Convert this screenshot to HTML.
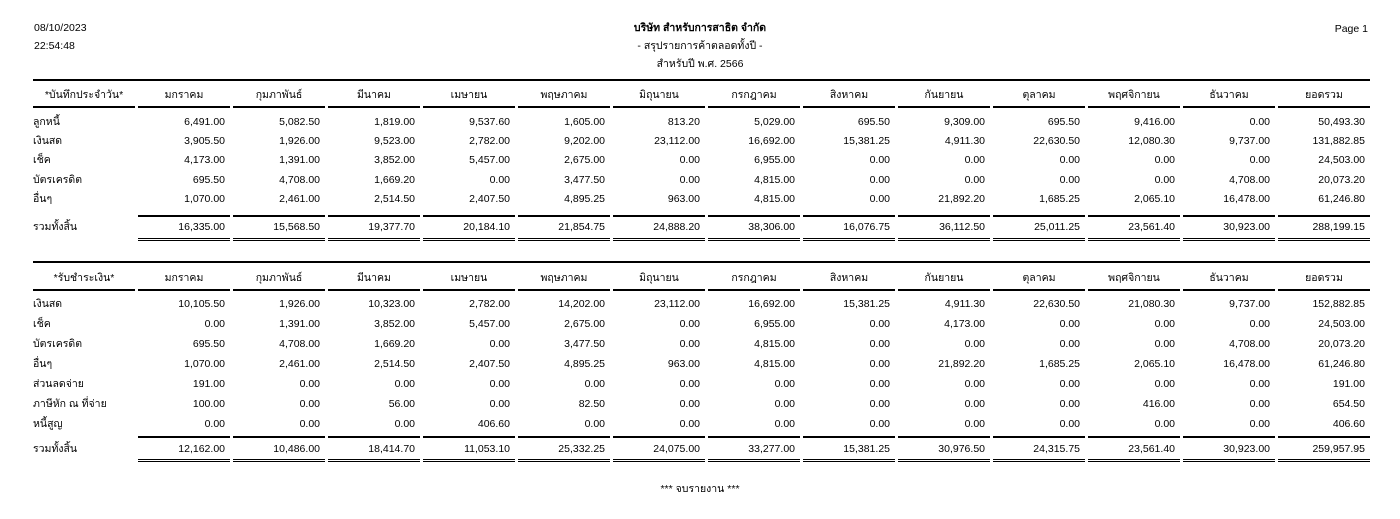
<!DOCTYPE html>
<html><head><meta charset="utf-8"><style>
body{margin:0;width:1400px;height:519px;background:#fff;position:relative;overflow:hidden;font-family:"Liberation Sans","DejaVu Sans",sans-serif;font-size:10.5px;color:#000}
.a{position:absolute;line-height:14px;white-space:nowrap}
.c{position:absolute;left:0;width:1400px;text-align:center;line-height:14px}
.r{position:absolute;left:33px;display:flex;line-height:14px;white-space:nowrap}
.r span{width:95px;text-align:right;padding-right:5px;box-sizing:border-box}
.r span:first-child{width:102px;text-align:left;padding:0}
.h span{text-align:center;padding:0 0 0 3px}
.h span:first-child{text-align:center}
.ln{position:absolute;display:flex;gap:3px}
.ln div{width:92px;background:#000}
.full{position:absolute;left:33px;width:1337px;height:2px;background:#000}
</style></head><body>
<div class="a" style="left:34px;top:21px">08/10/2023</div>
<div class="a" style="left:34px;top:39px">22:54:48</div>
<div class="a" style="right:32px;top:22px">Page 1</div>
<div class="c" style="top:21px;font-weight:bold">บริษัท สำหรับการสาธิต จำกัด</div>
<div class="c" style="top:39px">- สรุปรายการค้าตลอดทั้งปี -</div>
<div class="c" style="top:57px">สำหรับปี พ.ศ. 2566</div>

<div class="full" style="top:79px"></div>
<div class="r h" style="top:88px"><span>*บันทึกประจำวัน*</span><span>มกราคม</span><span>กุมภาพันธ์</span><span>มีนาคม</span><span>เมษายน</span><span>พฤษภาคม</span><span>มิถุนายน</span><span>กรกฎาคม</span><span>สิงหาคม</span><span>กันยายน</span><span>ตุลาคม</span><span>พฤศจิกายน</span><span>ธันวาคม</span><span>ยอดรวม</span></div>
<div class="ln" style="left:33px;top:106px;height:2px"><div style="width:102px"></div><div></div><div></div><div></div><div></div><div></div><div></div><div></div><div></div><div></div><div></div><div></div><div></div><div></div></div>
<div class="r" style="top:115px"><span>ลูกหนี้</span><span>6,491.00</span><span>5,082.50</span><span>1,819.00</span><span>9,537.60</span><span>1,605.00</span><span>813.20</span><span>5,029.00</span><span>695.50</span><span>9,309.00</span><span>695.50</span><span>9,416.00</span><span>0.00</span><span>50,493.30</span></div>
<div class="r" style="top:134px"><span>เงินสด</span><span>3,905.50</span><span>1,926.00</span><span>9,523.00</span><span>2,782.00</span><span>9,202.00</span><span>23,112.00</span><span>16,692.00</span><span>15,381.25</span><span>4,911.30</span><span>22,630.50</span><span>12,080.30</span><span>9,737.00</span><span>131,882.85</span></div>
<div class="r" style="top:153px"><span>เช็ค</span><span>4,173.00</span><span>1,391.00</span><span>3,852.00</span><span>5,457.00</span><span>2,675.00</span><span>0.00</span><span>6,955.00</span><span>0.00</span><span>0.00</span><span>0.00</span><span>0.00</span><span>0.00</span><span>24,503.00</span></div>
<div class="r" style="top:173px"><span>บัตรเครดิต</span><span>695.50</span><span>4,708.00</span><span>1,669.20</span><span>0.00</span><span>3,477.50</span><span>0.00</span><span>4,815.00</span><span>0.00</span><span>0.00</span><span>0.00</span><span>0.00</span><span>4,708.00</span><span>20,073.20</span></div>
<div class="r" style="top:192px"><span>อื่นๆ</span><span>1,070.00</span><span>2,461.00</span><span>2,514.50</span><span>2,407.50</span><span>4,895.25</span><span>963.00</span><span>4,815.00</span><span>0.00</span><span>21,892.20</span><span>1,685.25</span><span>2,065.10</span><span>16,478.00</span><span>61,246.80</span></div>
<div class="ln" style="left:138px;top:215px;height:2px"><div></div><div></div><div></div><div></div><div></div><div></div><div></div><div></div><div></div><div></div><div></div><div></div><div></div></div>
<div class="r" style="top:220px"><span>รวมทั้งสิ้น</span><span>16,335.00</span><span>15,568.50</span><span>19,377.70</span><span>20,184.10</span><span>21,854.75</span><span>24,888.20</span><span>38,306.00</span><span>16,076.75</span><span>36,112.50</span><span>25,011.25</span><span>23,561.40</span><span>30,923.00</span><span>288,199.15</span></div>
<div class="ln" style="left:138px;top:238px;height:1px"><div></div><div></div><div></div><div></div><div></div><div></div><div></div><div></div><div></div><div></div><div></div><div></div><div></div></div>
<div class="ln" style="left:138px;top:240px;height:1px"><div></div><div></div><div></div><div></div><div></div><div></div><div></div><div></div><div></div><div></div><div></div><div></div><div></div></div>

<div class="full" style="top:261px"></div>
<div class="r h" style="top:271px"><span>*รับชำระเงิน*</span><span>มกราคม</span><span>กุมภาพันธ์</span><span>มีนาคม</span><span>เมษายน</span><span>พฤษภาคม</span><span>มิถุนายน</span><span>กรกฎาคม</span><span>สิงหาคม</span><span>กันยายน</span><span>ตุลาคม</span><span>พฤศจิกายน</span><span>ธันวาคม</span><span>ยอดรวม</span></div>
<div class="ln" style="left:33px;top:289px;height:2px"><div style="width:102px"></div><div></div><div></div><div></div><div></div><div></div><div></div><div></div><div></div><div></div><div></div><div></div><div></div><div></div></div>
<div class="r" style="top:297px"><span>เงินสด</span><span>10,105.50</span><span>1,926.00</span><span>10,323.00</span><span>2,782.00</span><span>14,202.00</span><span>23,112.00</span><span>16,692.00</span><span>15,381.25</span><span>4,911.30</span><span>22,630.50</span><span>21,080.30</span><span>9,737.00</span><span>152,882.85</span></div>
<div class="r" style="top:317px"><span>เช็ค</span><span>0.00</span><span>1,391.00</span><span>3,852.00</span><span>5,457.00</span><span>2,675.00</span><span>0.00</span><span>6,955.00</span><span>0.00</span><span>4,173.00</span><span>0.00</span><span>0.00</span><span>0.00</span><span>24,503.00</span></div>
<div class="r" style="top:337px"><span>บัตรเครดิต</span><span>695.50</span><span>4,708.00</span><span>1,669.20</span><span>0.00</span><span>3,477.50</span><span>0.00</span><span>4,815.00</span><span>0.00</span><span>0.00</span><span>0.00</span><span>0.00</span><span>4,708.00</span><span>20,073.20</span></div>
<div class="r" style="top:357px"><span>อื่นๆ</span><span>1,070.00</span><span>2,461.00</span><span>2,514.50</span><span>2,407.50</span><span>4,895.25</span><span>963.00</span><span>4,815.00</span><span>0.00</span><span>21,892.20</span><span>1,685.25</span><span>2,065.10</span><span>16,478.00</span><span>61,246.80</span></div>
<div class="r" style="top:377px"><span>ส่วนลดจ่าย</span><span>191.00</span><span>0.00</span><span>0.00</span><span>0.00</span><span>0.00</span><span>0.00</span><span>0.00</span><span>0.00</span><span>0.00</span><span>0.00</span><span>0.00</span><span>0.00</span><span>191.00</span></div>
<div class="r" style="top:397px"><span>ภาษีหัก ณ ที่จ่าย</span><span>100.00</span><span>0.00</span><span>56.00</span><span>0.00</span><span>82.50</span><span>0.00</span><span>0.00</span><span>0.00</span><span>0.00</span><span>0.00</span><span>416.00</span><span>0.00</span><span>654.50</span></div>
<div class="r" style="top:417px"><span>หนี้สูญ</span><span>0.00</span><span>0.00</span><span>0.00</span><span>406.60</span><span>0.00</span><span>0.00</span><span>0.00</span><span>0.00</span><span>0.00</span><span>0.00</span><span>0.00</span><span>0.00</span><span>406.60</span></div>
<div class="ln" style="left:138px;top:436px;height:2px"><div></div><div></div><div></div><div></div><div></div><div></div><div></div><div></div><div></div><div></div><div></div><div></div><div></div></div>
<div class="r" style="top:442px"><span>รวมทั้งสิ้น</span><span>12,162.00</span><span>10,486.00</span><span>18,414.70</span><span>11,053.10</span><span>25,332.25</span><span>24,075.00</span><span>33,277.00</span><span>15,381.25</span><span>30,976.50</span><span>24,315.75</span><span>23,561.40</span><span>30,923.00</span><span>259,957.95</span></div>
<div class="ln" style="left:138px;top:459px;height:1px"><div></div><div></div><div></div><div></div><div></div><div></div><div></div><div></div><div></div><div></div><div></div><div></div><div></div></div>
<div class="ln" style="left:138px;top:461px;height:1px"><div></div><div></div><div></div><div></div><div></div><div></div><div></div><div></div><div></div><div></div><div></div><div></div><div></div></div>

<div class="c" style="top:482px">*** จบรายงาน ***</div>
</body></html>
